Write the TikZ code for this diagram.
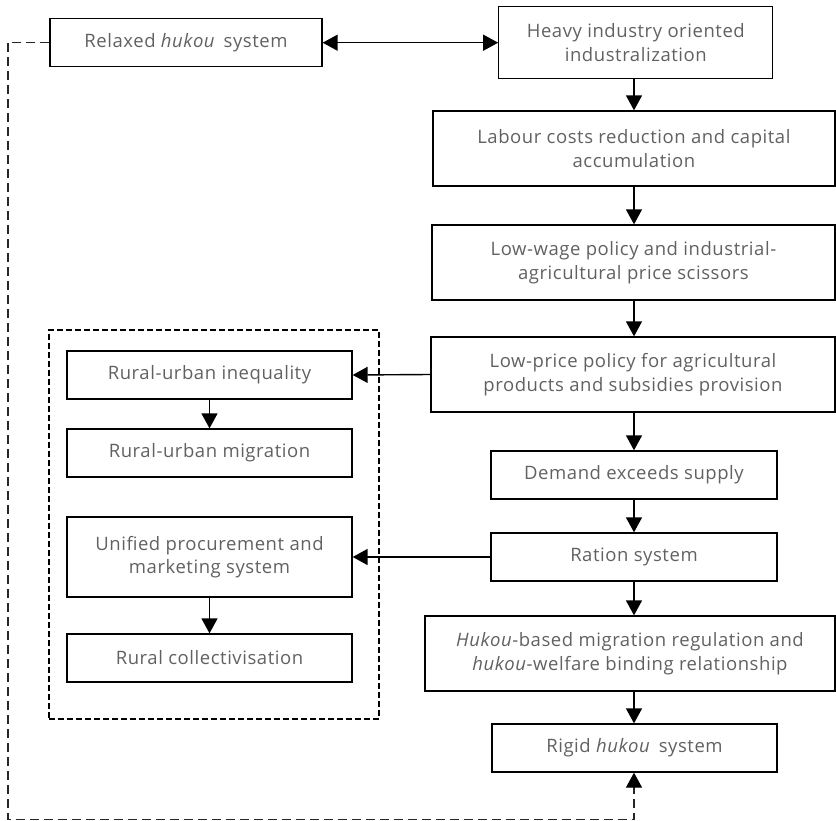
\documentclass[tikz,border=0pt]{standalone}
\usepackage{fontspec}
\setmainfont{Open Sans}[LetterSpace=3]
\usetikzlibrary{arrows.meta}
\begin{document}
\begin{tikzpicture}[x=1pt,y=-1pt,
  box/.style={draw=black, line width=1.3pt, minimum width=#1, inner sep=0pt, align=center,
    text=black!62, font=\fontsize{18.5}{23.5}\selectfont},
  hb/.style={minimum height=48pt},
  hc/.style={minimum height=75pt},
  tip/.tip={Triangle[length=15pt,width=16pt]},
  arr/.style={line width=1.4pt, -tip},
  darr/.style={line width=1.4pt, tip-tip},
  dashline/.style={line width=1.3pt, draw=black!85, dash pattern=on 9pt off 5pt},
  groupbox/.style={line width=2.6pt, dash pattern=on 6pt off 3pt}]
\useasboundingbox (0,0) rectangle (836,821);
% right column
\node[box=272pt,hb] (relaxed) at (186,42.7) {Relaxed \textit{hukou}\, system};
\node[box=274pt,minimum height=72pt] (heavy) at (635.8,42.7) {Heavy industry oriented\\industralization};
\node[box=402pt,hc] (labour) at (633.9,148.5) {Labour costs reduction and capital\\accumulation};
\node[box=403pt,hc] (lowwage) at (633.4,262.5) {Low-wage policy and industrial-\\agricultural price scissors};
\node[box=404pt,hc] (lowprice) at (633,374.5) {Low-price policy for agricultural\\products and subsidies provision};
\node[box=286pt,hb] (demand) at (634,475) {Demand exceeds supply};
\node[box=286pt,hb] (ration) at (634,557) {Ration system};
\node[box=410pt,hc] (hbased) at (630,653.5) {\textit{Hukou}-based migration regulation and\\\textit{hukou}-welfare binding relationship};
\node[box=285pt,hb] (rigid) at (634.5,748) {Rigid \textit{hukou}\, system};
% left column
\node[box=285pt,hb] (ineq) at (209.5,375) {Rural-urban inequality};
\node[box=285pt,hb] (migr) at (209.5,453) {Rural-urban migration};
\node[box=285pt,minimum height=80pt] (unified) at (209.5,557) {Unified procurement and\\marketing system};
\node[box=285pt,hb] (coll) at (209.5,658) {Rural collectivisation};
\node[groupbox, draw, minimum width=330pt, minimum height=389pt, inner sep=0pt] (group) at (214,524.5) {};
% connectors
\coordinate (col) at (634,0);
\draw[darr] (relaxed.east) -- (heavy.west);
\draw[arr] (heavy.south -| col) -- (labour.north -| col);
\draw[arr] (labour.south -| col) -- (lowwage.north -| col);
\draw[arr] (lowwage.south -| col) -- (lowprice.north -| col);
\draw[arr] (lowprice.south -| col) -- (demand.north -| col);
\draw[arr] (demand.south -| col) -- (ration.north -| col);
\draw[arr] (ration.south -| col) -- (hbased.north -| col);
\draw[arr] (hbased.south -| col) -- (rigid.north -| col);
\draw[arr] (lowprice.west) -- (ineq.east);
\draw[arr] (ration.west) -- (unified.east);
\draw[arr] (ineq) -- (migr);
\draw[arr] (unified) -- (coll);
\coordinate (c1) at (8,42.7);
\coordinate (c2) at (8,819.5);
\coordinate (c3) at (634,819.5);
\coordinate (c4) at (634,784);
\draw[dashline] (relaxed.west) -- (c1) -- (c2) -- (c3) -- (c4);
\draw[line width=1.3pt, -tip] (c4) -- (rigid.south -| col);
\end{tikzpicture}
\end{document}
